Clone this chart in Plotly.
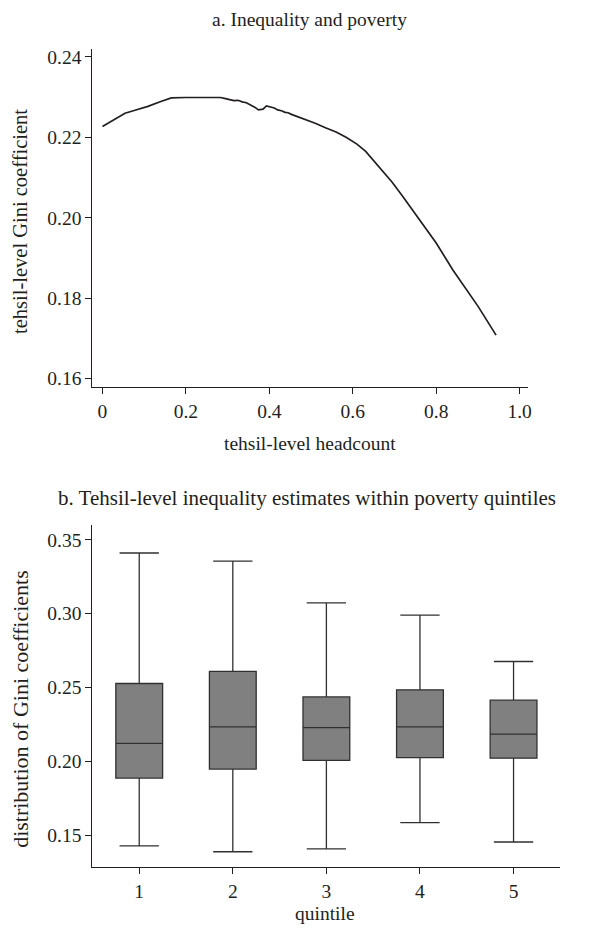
import plotly.graph_objects as go

# Panel a: inequality vs poverty
headcount = [0.000, 0.020, 0.054, 0.080, 0.109, 0.140, 0.165, 0.200, 0.250, 0.283,
             0.295, 0.305, 0.315, 0.325, 0.335, 0.345, 0.355, 0.365, 0.374, 0.385,
             0.393, 0.402, 0.412, 0.420, 0.429, 0.438, 0.445, 0.453, 0.461, 0.481,
             0.510, 0.536, 0.560, 0.584, 0.610, 0.631, 0.660, 0.694, 0.720, 0.758,
             0.800, 0.840, 0.900, 0.9435]
gini = [0.2227, 0.2240, 0.2260, 0.2268, 0.2277, 0.2289, 0.2298, 0.2299, 0.2300, 0.2299,
        0.2296, 0.2293, 0.2291, 0.2292, 0.2288, 0.2286, 0.2281, 0.2275, 0.2268, 0.2270,
        0.2278, 0.2275, 0.2273, 0.2268, 0.2266, 0.2262, 0.2261, 0.2257, 0.2254, 0.2246,
        0.2235, 0.2223, 0.2213, 0.2200, 0.2183, 0.2165, 0.2130, 0.2089, 0.2053, 0.1998,
        0.1937, 0.1870, 0.1780, 0.1708]

# Panel b: box statistics per poverty quintile
quintiles = [1, 2, 3, 4, 5]
q_low = [0.1428, 0.1389, 0.1408, 0.1586, 0.1455]
q_1 = [0.1887, 0.1948, 0.2007, 0.2025, 0.2022]
q_med = [0.2122, 0.2233, 0.2229, 0.2233, 0.2185]
q_3 = [0.2527, 0.2609, 0.2436, 0.2484, 0.2414]
q_high = [0.3410, 0.3355, 0.3072, 0.2989, 0.2676]

x_ticks_a = [0, 0.2, 0.4, 0.6, 0.8, 1.0]
x_ticklabels_a = ["0", "0.2", "0.4", "0.6", "0.8", "1.0"]
y_ticks_a = [0.16, 0.18, 0.20, 0.22, 0.24]
y_ticklabels_a = ["0.16", "0.18", "0.20", "0.22", "0.24"]
y_ticks_b = [0.15, 0.20, 0.25, 0.30, 0.35]
y_ticklabels_b = ["0.15", "0.20", "0.25", "0.30", "0.35"]

FONT = "Liberation Serif"
INK = "#231f20"
FS = 19.5

# page body has an 8px margin; the figure starts at (8, 8) in the window
OFF = 8
W, H = 615 - OFF, 928 - OFF

def px(X):
    return (X - OFF) / W

def py(Y):
    return 1 - (Y - OFF) / H

fig = go.Figure()
fig.add_trace(go.Scatter(x=headcount, y=gini, mode="lines",
                         line=dict(color=INK, width=1.7), xaxis="x", yaxis="y",
                         showlegend=False, hoverinfo="skip"))
fig.add_trace(go.Box(x=quintiles, lowerfence=q_low, q1=q_1, median=q_med, q3=q_3,
                     upperfence=q_high, xaxis="x2", yaxis="y2",
                     fillcolor="#808080", line=dict(color="#303030", width=1.3),
                     width=0.5, whiskerwidth=0.84, showlegend=False,
                     boxpoints=False))

axis_common = dict(showline=True, linecolor=INK, linewidth=1.2, ticks="outside",
                   ticklen=6, tickcolor=INK, tickwidth=1, showgrid=False,
                   zeroline=False, tickfont=dict(family=FONT, size=FS, color=INK))

fig.update_layout(
    width=W, height=H,
    margin=dict(l=0, r=0, t=0, b=0),
    paper_bgcolor="white", plot_bgcolor="white",
    font=dict(family=FONT, size=FS, color=INK),
    xaxis=dict(domain=[px(93), px(531)], anchor="y", range=[-0.024, 1.019],
               tickvals=x_ticks_a, ticktext=x_ticklabels_a, **axis_common),
    yaxis=dict(domain=[py(387), py(47)], anchor="x", range=[0.1578, 0.2420],
               tickvals=y_ticks_a, ticktext=y_ticklabels_a, **axis_common),
    xaxis2=dict(domain=[px(93), px(564)], anchor="y2", range=[0.5, 5.5],
                tickvals=quintiles, ticktext=[str(q) for q in quintiles], **axis_common),
    yaxis2=dict(domain=[py(869), py(525)], anchor="x2", range=[0.1284, 0.3601],
                tickvals=y_ticks_b, ticktext=y_ticklabels_b, **axis_common),
)

def ann(text, X, Y, angle=0, size=FS):
    fig.add_annotation(text=text, x=px(X), y=py(Y), xref="paper", yref="paper",
                       showarrow=False, textangle=angle, xanchor="center", yanchor="middle",
                       font=dict(family=FONT, size=size, color=INK))

ann("a. Inequality and poverty", 312, 18)
ann("tehsil-level headcount", 312, 443)
ann("tehsil-level Gini coefficient", 20, 220, -90, 20.5)
ann("b. Tehsil-level inequality estimates within poverty quintiles", 309, 498, 0, 21)
ann("quintile", 327, 915)
ann("distribution of Gini coefficients", 21, 710, -90, 22)

fig.write_html("out.html")
